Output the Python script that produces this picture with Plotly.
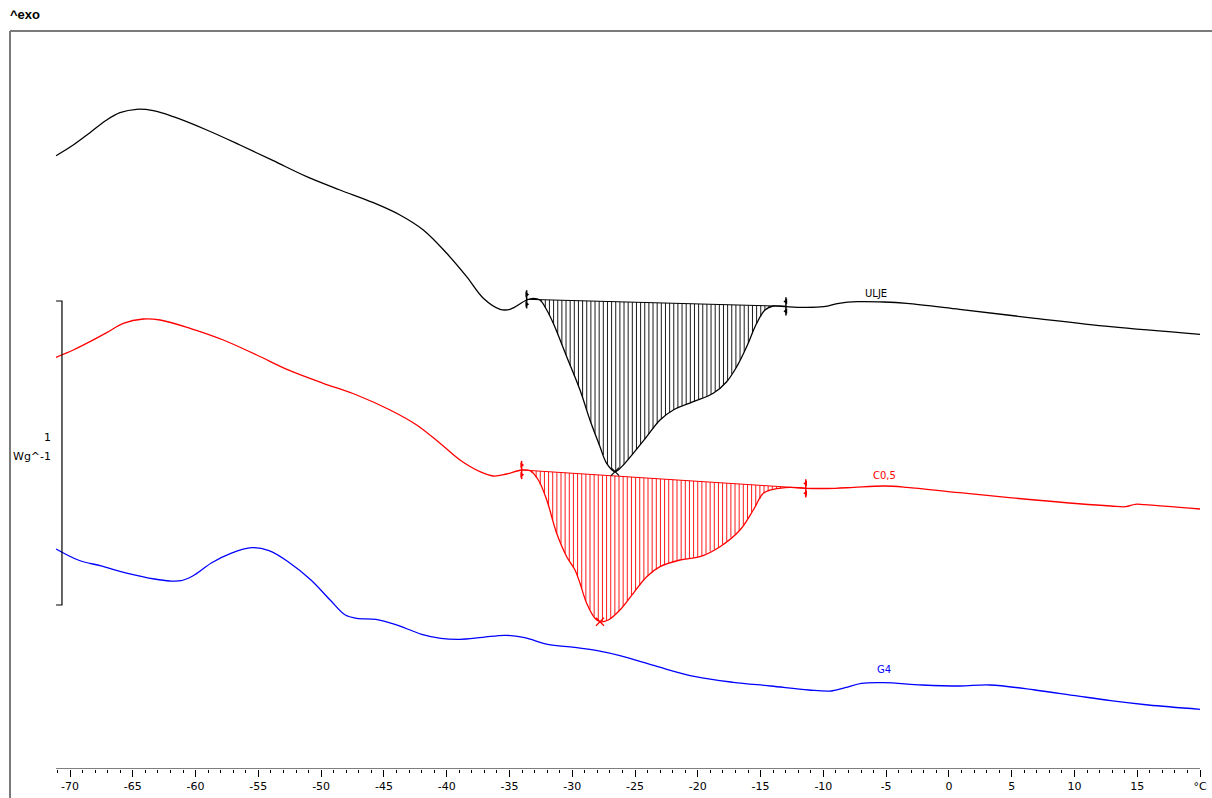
import numpy as np
import plotly.graph_objects as go

# ---------------- data (temperature in °C, heat flow in W/g, curves offset) ----------------
ulje_t = [-71.11, -69.74, -68.41, -67.08, -66.02, -64.69, -63.37, -61.77, -59.11, -56.46,
          -53.81, -51.15, -48.50, -45.84, -43.72, -41.86, -40.00, -38.41, -37.08, -35.75,
          -34.96, -33.63, -33.10, -32.57, -32.03, -31.51, -30.44, -29.38, -28.59, -27.79,
          -27.26, -26.59, -25.93, -25.14, -24.07, -23.01, -21.95, -20.36, -18.77, -17.70,
          -16.90, -16.11, -15.31, -14.65, -13.99, -12.98, -12.07, -9.97, -8.76, -7.27,
          -5.17, -3.36, 0.85, 6.86, 12.88, 20.0]
ulje_hf = [2.0174, 2.0526, 2.0931, 2.1349, 2.1589, 2.1701, 2.1655, 2.1457, 2.1020, 2.0526,
           2.0010, 1.9484, 1.9046, 1.8628, 1.8224, 1.7730, 1.6964, 1.6194, 1.5484, 1.5122,
           1.5122, 1.5428, 1.5484, 1.5428, 1.5099, 1.4661, 1.3563, 1.2467, 1.1480, 1.0602,
           1.0056, 0.9780, 1.0000, 1.0385, 1.0931, 1.1480, 1.1809, 1.2082, 1.2359, 1.2740,
           1.3234, 1.3891, 1.4661, 1.5099, 1.5230, 1.5207, 1.5188, 1.5207, 1.5319, 1.5372,
           1.5362, 1.5319, 1.5122, 1.4826, 1.4549, 1.4299]

c05_t = [-71.11, -69.74, -68.41, -67.08, -65.76, -64.16, -62.83, -60.44, -57.79, -55.13,
         -52.48, -49.83, -47.17, -44.51, -42.39, -40.53, -38.94, -37.35, -36.29, -35.22,
         -34.03, -33.36, -32.70, -32.03, -31.24, -30.44, -29.78, -29.38, -28.85, -28.19,
         -27.79, -27.13, -26.20, -25.14, -24.07, -23.01, -21.42, -19.83, -18.23, -16.64,
         -15.58, -14.78, -13.99, -12.66, -11.40, -9.07, -7.56, -5.16, -3.36, 0.85,
         6.86, 12.88, 14.08, 14.83, 15.58, 20.0]
c05_hf = [1.3543, 1.3783, 1.4056, 1.4352, 1.4661, 1.4803, 1.4770, 1.4497, 1.4112, 1.3618,
          1.3102, 1.2688, 1.2303, 1.1809, 1.1316, 1.0714, 1.0164, 0.9780, 0.9638, 0.9704,
          0.9836, 0.9813, 0.9507, 0.8849, 0.7753, 0.6984, 0.6546, 0.6109, 0.5451, 0.4957,
          0.4845, 0.4901, 0.5230, 0.5780, 0.6326, 0.6655, 0.6875, 0.6984, 0.7313, 0.7862,
          0.8520, 0.9069, 0.9201, 0.9266, 0.9234, 0.9234, 0.9266, 0.9309, 0.9266, 0.9089,
          0.8849, 0.8651, 0.8628, 0.8707, 0.8694, 0.8553]

g4_t = [-71.11, -69.35, -67.52, -65.40, -63.27, -62.05, -61.14, -60.23, -58.71, -57.19,
        -55.52, -54.15, -52.63, -50.81, -49.28, -48.07, -47.16, -45.64, -44.12, -41.99,
        -40.47, -38.96, -37.13, -35.31, -33.79, -31.96, -29.83, -28.00, -26.20, -23.19,
        -20.18, -17.18, -14.18, -11.17, -9.37, -8.17, -6.96, -5.16, -2.15, 0.85,
        3.26, 6.86, 9.87, 12.88, 15.88, 20.0]
g4_hf = [0.7237, 0.6875, 0.6678, 0.6438, 0.6250, 0.6184, 0.6194, 0.6349, 0.6786, 0.7095,
         0.7280, 0.7181, 0.6819, 0.6217, 0.5559, 0.5066, 0.4957, 0.4924, 0.4760, 0.4431,
         0.4299, 0.4266, 0.4332, 0.4398, 0.4319, 0.4102, 0.4003, 0.3891, 0.3727, 0.3365,
         0.3036, 0.2852, 0.2730, 0.2599, 0.2566, 0.2688, 0.2819, 0.2839, 0.2763, 0.2730,
         0.2763, 0.2599, 0.2424, 0.2247, 0.2105, 0.1964]

# integration baselines (start/end) and peak positions
ulje_base_t = [-33.63, -12.98]
ulje_base_hf = [1.545, 1.522]
ulje_peak = (-26.59, 0.9780)
c05_base_t = [-34.03, -11.40]
c05_base_hf = [0.9836, 0.9234]
c05_peak = (-27.79, 0.4845)

names = ["ULJE", "C0,5", "G4"]
label_t = [-5.77, -5.16, -5.16]
label_hf = [1.5625, 0.9671, 0.3289]
colors = ["#000000", "#ff0000", "#0000ff"]

major_ticks = list(range(-70, 21, 5))
major_text = [str(v) for v in major_ticks[:-1]] + ["°C"]
minor_ticks = [v for v in range(-71, 21) if v % 5 != 0]

scale_t = [-71.11, -70.64]
scale_hf = [0.5395, 1.5395]

X_RANGE = [-74.7786, 20.953]
Y_RANGE = [0.0, 2.4276]

fig = go.Figure()

def hatch(t, hf, bt, bhf, step):
    xs = np.arange(bt[0] + step / 2, bt[1], step)
    top = np.interp(xs, bt, bhf)
    bot = np.interp(xs, t, hf)
    X, Y = [], []
    for x, a, b in zip(xs, top, bot):
        if b < a - 0.002:
            X += [x, x, None]
            Y += [a, b, None]
    return X, Y

# hatch fills
for (t, hf, bt, bhf, col) in [(ulje_t, ulje_hf, ulje_base_t, ulje_base_hf, colors[0]),
                              (c05_t, c05_hf, c05_base_t, c05_base_hf, colors[1])]:
    hx, hy = hatch(t, hf, bt, bhf, 0.33)
    fig.add_trace(go.Scatter(x=hx, y=hy, mode="lines", line=dict(color=col, width=0.9),
                             hoverinfo="skip"))
    fig.add_trace(go.Scatter(x=bt, y=bhf, mode="lines", line=dict(color=col, width=1),
                             hoverinfo="skip"))

# curves
for t, hf, col in [(ulje_t, ulje_hf, colors[0]), (c05_t, c05_hf, colors[1]), (g4_t, g4_hf, colors[2])]:
    fig.add_trace(go.Scatter(x=t, y=hf, mode="lines",
                             line=dict(color=col, width=1.3, shape="spline", smoothing=1.0)))

# limit markers and peak markers
d = 0.016
for bt, bhf, col, pk in [(ulje_base_t, ulje_base_hf, colors[0], ulje_peak),
                         (c05_base_t, c05_base_hf, colors[1], c05_peak)]:
    fig.add_trace(go.Scatter(x=bt, y=bhf, mode="markers",
                             marker=dict(symbol="line-ns-open", size=13, color=col,
                                         line=dict(color=col, width=1.5))))
    for i, sym in enumerate(["triangle-right", "triangle-left"]):
        fig.add_trace(go.Scatter(x=[bt[i], bt[i]], y=[bhf[i] + d, bhf[i] - d], mode="markers",
                                 marker=dict(symbol=sym, size=5, color=col,
                                             line=dict(color=col, width=0))))
    fig.add_trace(go.Scatter(x=[pk[0]], y=[pk[1]], mode="markers",
                             marker=dict(symbol="x-thin-open", size=8, color=col,
                                         line=dict(color=col, width=1.2))))

# scale bar
fig.add_trace(go.Scatter(x=[scale_t[0], scale_t[1], scale_t[1], scale_t[0]],
                         y=[scale_hf[1], scale_hf[1], scale_hf[0], scale_hf[0]],
                         mode="lines", line=dict(color="#000000", width=1.2)))

# curve labels
for n, lt, lh, col in zip(names, label_t, label_hf, colors):
    fig.add_annotation(x=lt, y=lh, text=n, showarrow=False, xanchor="center", yanchor="middle",
                       font=dict(family="DejaVu Sans", size=10, color=col))

fig.add_annotation(x=-71.35, y=1.089, text="1", showarrow=False, xanchor="right", yanchor="middle",
                   font=dict(family="DejaVu Sans", size=11, color="#000"))
fig.add_annotation(x=-71.35, y=1.0296, text="Wg^-1", showarrow=False, xanchor="right", yanchor="middle",
                   font=dict(family="DejaVu Sans", size=11, color="#000"))
fig.add_annotation(xref="paper", yref="paper", x=-0.0017, y=1.023, text="<b>^exo</b>", showarrow=False,
                   xanchor="left", yanchor="middle",
                   font=dict(family="Liberation Sans", size=13, color="#000"))

# axis line and frame
fig.add_shape(type="line", xref="x", yref="y", x0=-71.11, x1=20.0, y0=0, y1=0,
              line=dict(color="#000", width=1.2))
fig.add_shape(type="line", xref="paper", yref="paper", x0=0, x1=0, y0=1, y1=-0.05,
              line=dict(color="#7a7a7a", width=2))
fig.add_shape(type="line", xref="paper", yref="paper", x0=0, x1=1.01, y0=1, y1=1,
              line=dict(color="#7a7a7a", width=2))

fig.update_layout(
    width=1212, height=798,
    margin=dict(l=10, r=0, t=31, b=29),
    paper_bgcolor="white", plot_bgcolor="white",
    showlegend=False,
    xaxis=dict(range=X_RANGE, showgrid=False, zeroline=False, showline=False,
               tickmode="array", tickvals=major_ticks, ticktext=major_text,
               ticks="outside", ticklen=7, tickwidth=1, tickcolor="#000",
               tickfont=dict(family="DejaVu Sans", size=11, color="#000"),
               minor=dict(tickmode="array", tickvals=minor_ticks, ticks="outside",
                          ticklen=3, tickwidth=1, tickcolor="#000", showgrid=False),
               fixedrange=True),
    yaxis=dict(range=Y_RANGE, visible=False, fixedrange=True),
)

fig.write_html("out.html", config={"displayModeBar": False},
               post_script="document.body.style.margin='0px';document.body.style.overflow='hidden';")
